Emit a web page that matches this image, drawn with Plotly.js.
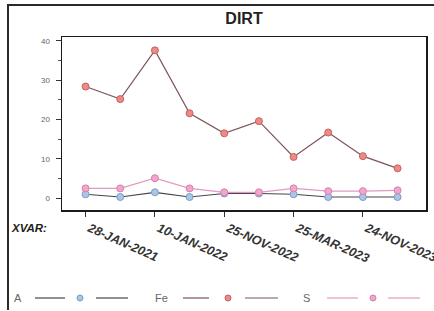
<!DOCTYPE html>
<html>
<head>
<meta charset="utf-8">
<script src="https://cdn.plot.ly/plotly-3.0.1.min.js"></script>
<style>
  html, body { margin: 0; padding: 0; background: #fff; }
  #wrap { position: relative; width: 434px; height: 311px; overflow: hidden; }
  #chart { position: absolute; left: 0; top: 0; width: 434px; height: 311px; }
  #frame { position: absolute; left: 7px; top: 4px; width: 425px; height: 304px;
           border: 2px solid #2a2a2a; border-right: none; border-bottom: none; pointer-events: none; }
</style>
</head>
<body>
<div id="wrap">
  <div id="chart"></div>
  <div id="frame"></div>
</div>
<script>
// ---- data ----
const xIndex = [0, 1, 2, 3, 4, 5, 6, 7, 8, 9];
const tickPositions = [0, 2, 4, 6, 8];
const tickLabels = ['28-JAN-2021', '10-JAN-2022', '25-NOV-2022', '25-MAR-2023', '24-NOV-2023'];
const seriesNames = ['A', 'Fe', 'S'];
const valuesA  = [1.0, 0.3, 1.5, 0.3, 1.2, 1.2, 1.0, 0.3, 0.3, 0.3];
const valuesFe = [28.4, 25.2, 37.6, 21.6, 16.5, 19.6, 10.5, 16.7, 10.7, 7.6];
const valuesS  = [2.5, 2.5, 5.1, 2.5, 1.5, 1.5, 2.5, 1.8, 1.8, 2.0];
const yTicks = [0, 10, 20, 30, 40];
const yMinorTicks = [5, 15, 25, 35];

// ---- styles ----
const lineColors   = ['#45454f', '#7d5458', '#e39ac0'];
const markerColors = ['#a9c6e6', '#ec8a86', '#f2a6cc'];
const markerLines  = ['#7d9cc4', '#c8605e', '#d77fae'];
const seriesValues = [valuesA, valuesFe, valuesS];
const FONT = 'Liberation Sans, Arial, sans-serif';

const traces = seriesNames.map((name, i) => ({
  type: 'scatter',
  mode: 'lines+markers',
  name: name,
  x: xIndex,
  y: seriesValues[i],
  line: { color: lineColors[i], width: 1.2 },
  marker: { color: markerColors[i], size: 7, symbol: 'circle',
            line: { color: markerLines[i], width: 1 } },
  showlegend: false,
  hoverinfo: 'skip'
}));

// custom legend (text, line, marker, line)
const legendX = [[12, 35, 65, 80, 96, 128], [153, 183, 209, 228, 245, 278], [301, 327, 358, 373, 388, 420]];
const legendY = 298;
const shapes = [];
const annotations = [];
const W = 434, H = 311, ml = 62, mr = 8, mt = 37, mb = 101;
const pw = W - ml - mr, ph = H - mt - mb;
const px = (v) => (v - ml) / pw;
const py = (v) => (H - mb - v) / ph;

seriesNames.forEach((name, i) => {
  const [tx, l1a, l1b, mx, l2a, l2b] = legendX[i];
  annotations.push({ xref: 'paper', yref: 'paper', x: px(tx), y: py(legendY),
    text: name, showarrow: false, xanchor: 'left', yanchor: 'middle',
    font: { family: FONT, size: 11, color: '#666' } });
  shapes.push({ type: 'line', xref: 'paper', yref: 'paper', x0: px(l1a), x1: px(l1b),
    y0: py(legendY), y1: py(legendY), line: { color: lineColors[i], width: 1.2 } });
  shapes.push({ type: 'line', xref: 'paper', yref: 'paper', x0: px(l2a), x1: px(l2b),
    y0: py(legendY), y1: py(legendY), line: { color: lineColors[i], width: 1.2 } });
  shapes.push({ type: 'circle', xref: 'paper', yref: 'paper', x0: px(mx - 3), x1: px(mx + 3),
    y0: py(legendY + 3), y1: py(legendY - 3), fillcolor: markerColors[i],
    line: { color: markerLines[i], width: 1 } });
});

annotations.push({ xref: 'paper', yref: 'paper', x: px(9), y: py(228),
  text: '<b><i>XVAR:</i></b>', showarrow: false, xanchor: 'left', yanchor: 'middle',
  font: { family: FONT, size: 11.5, color: '#222' } });

const layout = {
  width: W, height: H,
  margin: { l: ml, r: mr, t: mt, b: mb, pad: 0 },
  paper_bgcolor: '#fff', plot_bgcolor: '#fff',
  title: { text: '<b>DIRT</b>', x: 0.5, xref: 'paper', xanchor: 'center', y: 1 - 18 / H, yanchor: 'middle',
           font: { family: FONT, size: 16, color: '#222' } },
  xaxis: {
    range: [-0.68, 9.82], showgrid: false, zeroline: false,
    showline: true, mirror: true, linecolor: '#1a1a1a', linewidth: 1.5,
    tickmode: 'array', tickvals: tickPositions, ticktext: tickLabels.map(t => '<b><i>' + t + '</i></b>'),
    ticks: 'outside', ticklen: 5, tickcolor: '#333', tickangle: 24,
    ticklabelshift: 4, ticklabeloverflow: 'allow',
    tickfont: { family: FONT, size: 12.5, color: '#333' }
  },
  yaxis: {
    range: [-3, 41], showgrid: false, zeroline: false,
    showline: true, mirror: true, linecolor: '#1a1a1a', linewidth: 1.5,
    tickmode: 'array', tickvals: yTicks,
    ticks: 'outside', ticklen: 5, tickcolor: '#333', ticklabelstandoff: 4,
    minor: { tickmode: 'array', tickvals: yMinorTicks, ticks: 'outside', ticklen: 3, tickcolor: '#555' },
    tickfont: { family: FONT, size: 8, color: '#666' }
  },
  shapes: shapes,
  annotations: annotations,
  showlegend: false
};

Plotly.newPlot('chart', traces, layout, { staticPlot: true, displayModeBar: false });
</script>
</body>
</html>
